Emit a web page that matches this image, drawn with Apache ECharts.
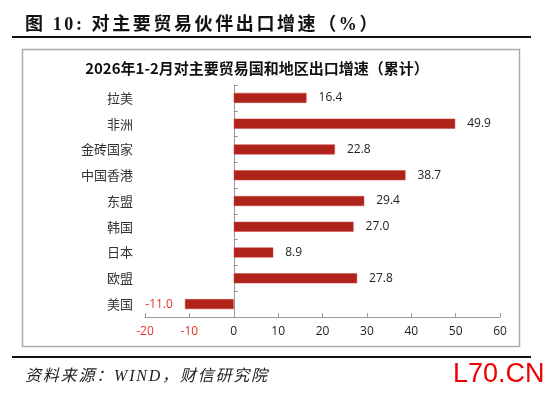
<!DOCTYPE html>
<html>
<head>
<meta charset="utf-8">
<script src="https://cdn.jsdelivr.net/npm/echarts@6/dist/echarts.min.js"></script>
<style>
  html, body { margin: 0; padding: 0; background: #fff; }
  .wrap { position: relative; width: 550px; height: 397px; }
  #chart { width: 550px; height: 397px; }
  .fig-title {
    position: absolute; left: 25px; top: 9px;
    font: bold 18px "Liberation Serif", "Noto Sans CJK SC";
    letter-spacing: 2.6px; color: #111; white-space: nowrap;
  }
  .source {
    position: absolute; left: 25px; top: 362px;
    font: italic 16px "Liberation Serif", "Noto Sans CJK SC";
    letter-spacing: 1.8px; color: #222; white-space: nowrap;
  }
</style>
</head>
<body>
<div class="wrap">
  <div id="chart"></div>
  <div class="fig-title">图 10:  对主要贸易伙伴出口增速（%）</div>
  <div class="source">资料来源：WIND，财信研究院</div>
</div>
<script>
// 数据
const regions = ['拉美', '非洲', '金砖国家', '中国香港', '东盟', '韩国', '日本', '欧盟', '美国'];
const growth = [16.4, 49.9, 22.8, 38.7, 29.4, 27.0, 8.9, 27.8, -11.0];

const red = '#e8302a';
const barColor = '#b0231b';

const chart = echarts.init(document.getElementById('chart'));

// 负值标签放在左边、红色
const barData = growth.map(v => v < 0
  ? { value: v, label: { position: 'left', color: red } }
  : { value: v });

chart.setOption({
  animation: false,
  grid: { left: 145, right: 50, top: 85, bottom: 80 },
  graphic: [
    { type: 'line', shape: { x1: 12, y1: 37, x2: 531, y2: 37 }, style: { stroke: '#111', lineWidth: 2 } },
    { type: 'rect', shape: { x: 22.5, y: 49.5, width: 497, height: 297 }, style: { fill: 'none', stroke: '#aaa', lineWidth: 1.5 } },
    {
      type: 'text', x: 257, y: 68,
      style: { text: '2026年1-2月对主要贸易国和地区出口增速（累计）', font: 'bold 15px "Noto Sans CJK SC"', fill: '#111', align: 'center', verticalAlign: 'middle' }
    },
    { type: 'line', shape: { x1: 12, y1: 357, x2: 531, y2: 357 }, style: { stroke: '#111', lineWidth: 2 } },
    {
      type: 'text', left: 453, top: 361,
      style: { text: 'L70.CN', font: '27px "Liberation Sans"', fill: '#e00' }
    }
  ],
  xAxis: {
    type: 'value',
    min: -20, max: 60, interval: 10,
    splitLine: { show: false },
    axisLine: { show: true, lineStyle: { color: '#999' } },
    axisTick: { show: true, inside: true, length: 4, lineStyle: { color: '#999' } },
    axisLabel: {
      fontFamily: 'Open Sans', fontSize: 12, margin: 9,
      color: v => (v < 0 ? red : '#222')
    }
  },
  yAxis: [
    {
      type: 'category',
      data: regions,
      inverse: true,
      position: 'left',
      axisLine: { show: false, onZero: false },
      axisTick: { show: false },
      axisLabel: { fontFamily: 'Noto Sans CJK SC', fontSize: 13, color: '#333', margin: 12 }
    },
    {
      type: 'category',
      data: regions,
      inverse: true,
      position: 'left',
      axisLine: { show: true, onZero: true, lineStyle: { color: '#999' } },
      axisTick: { show: true, inside: true, length: 4, lineStyle: { color: '#999' } },
      axisLabel: { show: false }
    }
  ],
  series: [
    {
      type: 'bar',
      yAxisIndex: 0,
      data: barData,
      barWidth: 10,
      itemStyle: { color: barColor, borderColor: '#c9453c', borderWidth: 0.5 },
      label: {
        show: true,
        position: 'right',
        distance: 12,
        fontFamily: 'Open Sans',
        fontSize: 12,
        color: '#222',
        formatter: p => p.value.toFixed(1)
      }
    }
  ]
});
</script>
</body>
</html>
